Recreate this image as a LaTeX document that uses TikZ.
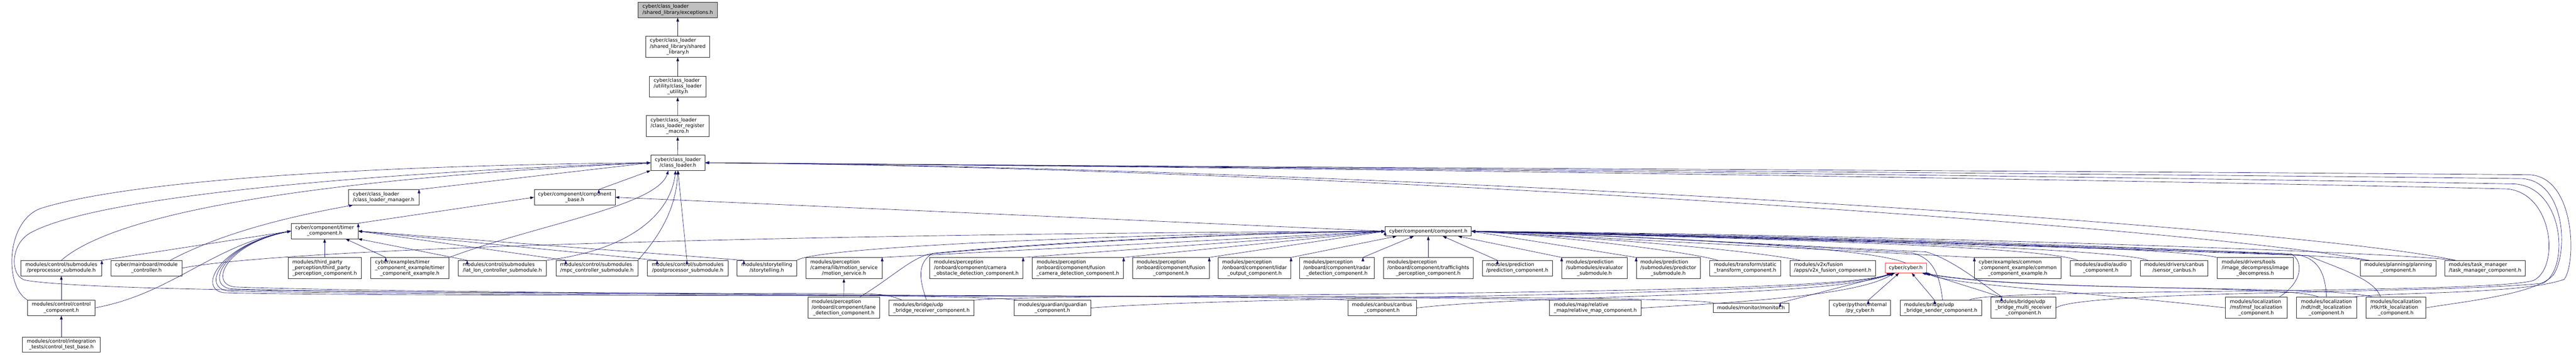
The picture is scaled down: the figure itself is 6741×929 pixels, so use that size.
\documentclass[tikz,border=0pt]{standalone}
\usepackage{fontspec}
\setmainfont{DejaVu Sans}
\usetikzlibrary{arrows.meta}
\definecolor{edgeblue}{HTML}{191970}
\definecolor{headgray}{HTML}{BFBFBF}
\definecolor{cutred}{HTML}{FF3333}
% first lines flush left, last line centred
\newcommand{\lbl}[2]{\begin{tabular}{@{}l@{}}#1\\\multicolumn{1}{@{}c@{}}{#2}\end{tabular}}

\tikzset{
  file/.style={draw=black!85, fill=white, line width=0.9pt, font=\fontsize{13}{15}\selectfont, inner xsep=3pt, inner ysep=0pt},
  one/.style={file, minimum height=25pt},
  two/.style={file, minimum height=40pt},
  three/.style={file, minimum height=55pt},
  dep/.style={draw=edgeblue, line width=0.9pt, -{Stealth[length=10pt, width=7pt, inset=0pt]}}
}

\begin{document}
\begin{tikzpicture}[x=1pt, y=-1pt]
    \useasboundingbox[fill=white] (0,0) rectangle (6741,929);

    % chain down from the file itself
    \node[two, fill=headgray, minimum width=207pt] (exceptions) at (1773.5,26) {\lbl{cyber/class\_loader}{/shared\_library/exceptions.h}};
    \node[three, minimum width=167pt] (shared_library) at (1773.5,122.5) {\lbl{cyber/class\_loader\\/shared\_library/shared}{\_library.h}};
    \node[three, minimum width=149pt] (class_loader_utility) at (1773.5,227) {\lbl{cyber/class\_loader\\/utility/class\_loader}{\_utility.h}};
    \node[three, minimum width=164pt] (register_macro) at (1773,330.5) {\lbl{cyber/class\_loader\\/class\_loader\_register}{\_macro.h}};
    \node[two, minimum width=142pt] (class_loader) at (1774,426.5) {\lbl{cyber/class\_loader}{/class\_loader.h}};
    \node[two, minimum width=184pt] (loader_manager) at (1004,517) {\lbl{cyber/class\_loader}{/class\_loader\_manager.h}};
    \node[two, minimum width=212pt] (component_base) at (1504,517) {\lbl{cyber/component/component}{\_base.h}};
    \node[two, minimum width=175pt] (timer_component) at (849.5,605.5) {\lbl{cyber/component/timer}{\_component.h}};
    \node[one, minimum width=225pt] (component) at (3737.5,606) {cyber/component/component.h};

    % row of includers
    \node[two, minimum width=211pt] (preprocessor) at (160.5,702.5) {\lbl{modules/control/submodules}{/preprocessor\_submodule.h}};
    \node[two, minimum width=186pt] (module_controller) at (383,702.5) {\lbl{cyber/mainboard/module}{\_controller.h}};
    \node[three, minimum width=191pt] (third_party) at (849.5,702.5) {\lbl{modules/third\_party\\\_perception/third\_party}{\_perception\_component.h}};
    \node[three, minimum width=205pt] (timer_example) at (1072.5,702.5) {\lbl{cyber/examples/timer\\\_component\_example/timer}{\_component\_example.h}};
    \node[two, minimum width=231pt] (lat_lon) at (1314.5,702.5) {\lbl{modules/control/submodules}{/lat\_lon\_controller\_submodule.h}};
    \node[two, minimum width=214pt] (mpc) at (1562,702.5) {\lbl{modules/control/submodules}{/mpc\_controller\_submodule.h}};
    \node[two, minimum width=211pt] (postprocessor) at (1799.5,702.5) {\lbl{modules/control/submodules}{/postprocessor\_submodule.h}};
    \node[two, minimum width=157pt] (storytelling) at (2006.5,702.5) {\lbl{modules/storytelling}{/storytelling.h}};
    \node[three, minimum width=199pt] (motion_service) at (2208.5,702.5) {\lbl{modules/perception\\/camera/lib/motion\_service}{/motion\_service.h}};
    \node[three, minimum width=244pt] (camera_obstacle) at (2555,702.5) {\lbl{modules/perception\\/onboard/component/camera}{\_obstacle\_detection\_component.h}};
    \node[three, minimum width=239pt] (fusion_camera) at (2820.5,702.5) {\lbl{modules/perception\\/onboard/component/fusion}{\_camera\_detection\_component.h}};
    \node[three, minimum width=200pt] (fusion) at (3064,702.5) {\lbl{modules/perception\\/onboard/component/fusion}{\_component.h}};
    \node[three, minimum width=190pt] (lidar_output) at (3283,702.5) {\lbl{modules/perception\\/onboard/component/lidar}{\_output\_component.h}};
    \node[three, minimum width=195pt] (radar) at (3498.5,702.5) {\lbl{modules/perception\\/onboard/component/radar}{\_detection\_component.h}};
    \node[three, minimum width=235pt] (trafficlights) at (3737.5,702.5) {\lbl{modules/perception\\/onboard/component/trafficlights}{\_perception\_component.h}};
    \node[two, minimum width=183pt] (prediction) at (3970.5,702.5) {\lbl{modules/prediction}{/prediction\_component.h}};
    \node[three, minimum width=171pt] (evaluator) at (4172.5,702.5) {\lbl{modules/prediction\\/submodules/evaluator}{\_submodule.h}};
    \node[three, minimum width=167pt] (predictor) at (4365.5,702.5) {\lbl{modules/prediction\\/submodules/predictor}{\_submodule.h}};
    \node[two, minimum width=186pt] (static_transform) at (4567,702.5) {\lbl{modules/transform/static}{\_transform\_component.h}};
    \node[two, minimum width=224pt] (v2x) at (4796,702.5) {\lbl{modules/v2x/fusion}{/apps/v2x\_fusion\_component.h}};
    \node[one, draw=cutred, minimum width=108pt] (cyber) at (4987,702.5) {cyber/cyber.h};
    \node[three, minimum width=226pt] (common_example) at (5280,702.5) {\lbl{cyber/examples/common\\\_component\_example/common}{\_component\_example.h}};
    \node[two, minimum width=158pt] (audio) at (5497,702.5) {\lbl{modules/audio/audio}{\_component.h}};
    \node[two, minimum width=177pt] (sensor_canbus) at (5689.5,702.5) {\lbl{modules/drivers/canbus}{/sensor\_canbus.h}};
    \node[three, minimum width=199pt] (image_decompress) at (5901.5,702.5) {\lbl{modules/drivers/tools\\/image\_decompress/image}{\_decompress.h}};
    \node[two, minimum width=199pt] (planning) at (6275.5,702.5) {\lbl{modules/planning/planning}{\_component.h}};
    \node[two, minimum width=210pt] (task_manager) at (6503,702.5) {\lbl{modules/task\_manager}{/task\_manager\_component.h}};

    % lower row
    \node[two, minimum width=177pt] (control_component) at (160.5,806.5) {\lbl{modules/control/control}{\_component.h}};
    \node[three, minimum width=188pt] (lane_detection) at (2208,806.5) {\lbl{modules/perception\\/onboard/component/lane}{\_detection\_component.h}};
    \node[two, minimum width=223pt] (udp_receiver) at (2437.5,807) {\lbl{modules/bridge/udp}{\_bridge\_receiver\_component.h}};
    \node[two, minimum width=200pt] (guardian) at (2754,807) {\lbl{modules/guardian/guardian}{\_component.h}};
    \node[two, minimum width=179pt] (canbus) at (3616.5,807) {\lbl{modules/canbus/canbus}{\_component.h}};
    \node[two, minimum width=240pt] (relative_map) at (4175,807) {\lbl{modules/map/relative}{\_map/relative\_map\_component.h}};
    \node[one, minimum width=198pt] (monitor) at (4582,806.5) {modules/monitor/monitor.h};
    \node[two, minimum width=160pt] (py_cyber) at (4867,807) {\lbl{cyber/python/internal}{/py\_cyber.h}};
    \node[two, minimum width=213pt] (udp_sender) at (5078.5,807) {\lbl{modules/bridge/udp}{\_bridge\_sender\_component.h}};
    \node[three, minimum width=170pt] (udp_multi) at (5295,806.5) {\lbl{modules/bridge/udp\\\_bridge\_multi\_receiver}{\_component.h}};
    \node[three, minimum width=162pt] (msf) at (5904,806.5) {\lbl{modules/localization\\/msf/msf\_localization}{\_component.h}};
    \node[three, minimum width=158pt] (ndt) at (6088,806.5) {\lbl{modules/localization\\/ndt/ndt\_localization}{\_component.h}};
    \node[three, minimum width=157pt] (rtk) at (6269.5,806.5) {\lbl{modules/localization\\/rtk/rtk\_localization}{\_component.h}};
    \node[two, minimum width=203pt] (control_test) at (160.5,903) {\lbl{modules/control/integration}{\_tests/control\_test\_base.h}};

    % include chain
    \path [dep] (shared_library) edge (exceptions);
    \path [dep] (class_loader_utility) edge (shared_library);
    \path [dep] (register_macro) edge (class_loader_utility);
    \path [dep] (class_loader) edge (register_macro);
    \path [dep] (loader_manager.north east) edge (class_loader.west);
    \path [dep] ([xshift=63pt]component_base.north) edge (class_loader.south west);
    \path [dep] (timer_component.north east) edge (component_base.west);
    \path [dep] (component.west) edge (component_base.east);

    % into class_loader.h
    \draw [dep] (preprocessor.north) .. controls (300,560) and (800,470) .. (class_loader.west);
    \draw [dep] (control_component.north west) .. controls (10,750) and (15,575) .. (110,545) .. controls (420,450) and (1300,430) .. (class_loader.west);
    \draw [dep] ([xshift=35pt]udp_receiver.north west) .. controls (2330,774) and (2310,770) .. (2250,770) .. controls (1500,766) and (300,770) .. (70,735) .. controls (25,728) and (25,640) .. (80,610) .. controls (300,490) and (1300,440) .. (class_loader.west);
    \draw [dep] (timer_example.north east) .. controls (1400,590) and (1720,540) .. ([xshift=-25pt]class_loader.south);
    \draw [dep] (lat_lon.north east) .. controls (1650,655) and (1755,560) .. ([xshift=-6pt]class_loader.south);
    \draw [dep] (mpc.north east) .. controls (1715,630) and (1768,560) .. (class_loader.south);
    \path [dep] ([xshift=-2pt]postprocessor.north) edge (class_loader.south);
    \draw [dep] ([xshift=20pt]planning.north west) .. controls (5800,600) and (3500,440) .. (class_loader.east);
    \draw [dep] ([xshift=28pt]task_manager.north west) .. controls (6000,590) and (3600,440) .. (class_loader.east);
    \draw [dep] ([xshift=-32pt]udp_sender.north east) .. controls (5180,755) and (6500,772) .. (6630,735) .. controls (6700,700) and (6680,505) .. (6560,495) .. controls (5500,470) and (3500,440) .. (class_loader.east);
    \draw [dep] (udp_multi.east) .. controls (5450,760) and (6400,770) .. (6655,742) .. controls (6725,705) and (6710,490) .. (6580,482) .. controls (5500,462) and (3500,440) .. (class_loader.east);
    \draw [dep] (rtk.east) .. controls (6450,790) and (6640,770) .. (6682,720) .. controls (6722,660) and (6712,475) .. (6600,468) .. controls (5500,455) and (3500,440) .. (class_loader.east);
    \draw [dep] ([xshift=-10pt]ndt.north east) .. controls (6250,765) and (6600,772) .. (6710,732) .. controls (6742,690) and (6740,465) .. (6620,458) .. controls (5500,448) and (3500,440) .. (class_loader.east);

    % into timer_component.h
    \path [dep] (preprocessor.north east) edge (timer_component.west);
    \draw [dep] (control_component.east) .. controls (450,770) and (560,640) .. (timer_component.west);
    \path [dep] (third_party) edge (timer_component);
    \path [dep] ([xshift=40pt]timer_example.north west) edge ([xshift=-33pt]timer_component.south east);
    \path [dep] ([xshift=24pt]lat_lon.north west) edge (timer_component.south east);
    \path [dep] ([xshift=26pt]mpc.north west) edge (timer_component.east);
    \path [dep] ([xshift=26pt]postprocessor.north west) edge (timer_component.east);
    \path [dep] ([xshift=19pt]storytelling.north west) edge (timer_component.east);
    \draw [dep] ([xshift=10pt]guardian.north west) .. controls (2560,768) and (1100,770) .. (615,752) .. controls (545,745) and (590,640) .. (timer_component.west);
    \draw [dep] (canbus.north west) .. controls (3400,772) and (1100,774) .. (605,757) .. controls (535,748) and (585,640) .. (timer_component.west);
    \draw [dep] (relative_map.north west) .. controls (3900,774) and (1100,778) .. (595,762) .. controls (525,752) and (580,640) .. (timer_component.west);
    \draw [dep] (monitor.north west) .. controls (4380,765) and (1100,782) .. (585,767) .. controls (515,756) and (575,640) .. (timer_component.west);

    % module controller, motion service, control
    \draw [dep] ([xshift=-31pt]module_controller.north east) .. controls (600,600) and (800,560) .. ([xshift=12pt]loader_manager.south west);
    \draw [dep] (module_controller.east) .. controls (800,640) and (2500,610) .. (component.west);
    \path [dep] (lane_detection) edge (motion_service);
    \path [dep] (control_component) edge (preprocessor);
    \path [dep] (control_test) edge (control_component);

    % into component.h from the left
    \draw [dep] (storytelling.north east) .. controls (2140,645) and (3000,612) .. (component.west);
    \path [dep] (motion_service.north east) edge (component.west);
    \path [dep] (camera_obstacle.north east) edge (component.west);
    \path [dep] (fusion_camera.north east) edge (component.west);
    \path [dep] (fusion.north east) edge (component.west);
    \draw [dep] ([xshift=-53pt]lane_detection.north east) .. controls (2330,730) and (2380,680) .. (2430,666) .. controls (2700,640) and (3200,612) .. (component.west);
    \draw [dep] ([xshift=-13pt]udp_receiver.north) .. controls (2405,730) and (2400,690) .. (2440,664) .. controls (2700,638) and (3200,611) .. (component.west);
    \path [dep] (lidar_output.north east) edge ([xshift=30pt]component.south west);
    \path [dep] ([xshift=68pt]radar.north) edge ([xshift=-38pt]component.south);
    \path [dep] (trafficlights) edge (component);
    \path [dep] ([xshift=40pt]prediction.north west) edge ([xshift=38pt]component.south);
    \path [dep] (evaluator.north west) edge ([xshift=-35pt]component.south east);

    % into component.h from the right
    \path [dep] (predictor.north west) edge (component.east);
    \draw [dep] ([xshift=22pt]static_transform.north west) .. controls (4420,660) and (4100,620) .. (component.east);
    \draw [dep] ([xshift=27pt]v2x.north west) .. controls (4600,660) and (4300,630) .. (component.east);
    \draw [dep] (cyber.north) .. controls (4925,660) and (4600,630) .. (component.east);
    \path [dep] (common_example.north west) edge (component.east);
    \draw [dep] ([xshift=20pt]audio.north west) .. controls (5340,645) and (4600,625) .. (component.east);
    \draw [dep] ([xshift=20pt]sensor_canbus.north west) .. controls (5540,650) and (4600,622) .. (component.east);
    \draw [dep] (image_decompress.north west) .. controls (5700,648) and (4700,620) .. (component.east);
    \draw [dep] ([xshift=25pt]planning.north west) .. controls (6050,662) and (4900,618) .. (component.east);
    \draw [dep] ([xshift=28pt]task_manager.north west) .. controls (6250,660) and (5000,616) .. (component.east);
    \draw [dep] ([xshift=5pt]udp_sender.north) .. controls (5075,720) and (5060,675) .. (5000,662) .. controls (4600,640) and (4200,614) .. (component.east);
    \draw [dep] ([xshift=-55pt]udp_multi.north) .. controls (5180,740) and (5110,680) .. (5040,660) .. controls (4600,640) and (4200,614) .. (component.east);
    \draw [dep] ([xshift=60pt]msf.north) .. controls (6025,740) and (6030,685) .. (5995,665) .. controls (5500,645) and (4400,615) .. (component.east);
    \draw [dep] (ndt.north) .. controls (6085,720) and (6070,680) .. (6015,668) .. controls (5500,648) and (4400,616) .. (component.east);
    \draw [dep] ([xshift=-40pt]rtk.north) .. controls (6215,730) and (6110,700) .. (6040,670) .. controls (5500,650) and (4400,617) .. (component.east);

    % into cyber.h
    \draw [dep] (udp_receiver.north east) .. controls (2700,768) and (4800,780) .. ([xshift=15pt]cyber.south west);
    \draw [dep] (guardian.east) .. controls (3300,772) and (4800,780) .. ([xshift=18pt]cyber.south west);
    \draw [dep] (canbus.east) .. controls (4000,772) and (4800,780) .. ([xshift=21pt]cyber.south west);
    \draw [dep] (relative_map.east) .. controls (4600,790) and (4870,770) .. ([xshift=24pt]cyber.south west);
    \path [dep] ([xshift=-23pt]monitor.north east) edge ([xshift=27pt]cyber.south west);
    \path [dep] ([xshift=22pt]py_cyber.north) edge ([xshift=37pt]cyber.south west);
    \path [dep] ([xshift=-16pt]udp_sender.north) edge ([xshift=70pt]cyber.south west);
    \path [dep] ([xshift=28pt]udp_multi.north west) edge ([xshift=-4pt]cyber.south east);
    \draw [dep] (msf.west) .. controls (5400,760) and (5100,745) .. (cyber.south east);
    \draw [dep] ([xshift=-20pt]ndt.north) .. controls (6000,745) and (5300,765) .. ([xshift=-8pt]cyber.south east);
    \draw [dep] ([xshift=-60pt]rtk.north) .. controls (6100,745) and (5300,768) .. ([xshift=-12pt]cyber.south east);
\end{tikzpicture}
\end{document}
